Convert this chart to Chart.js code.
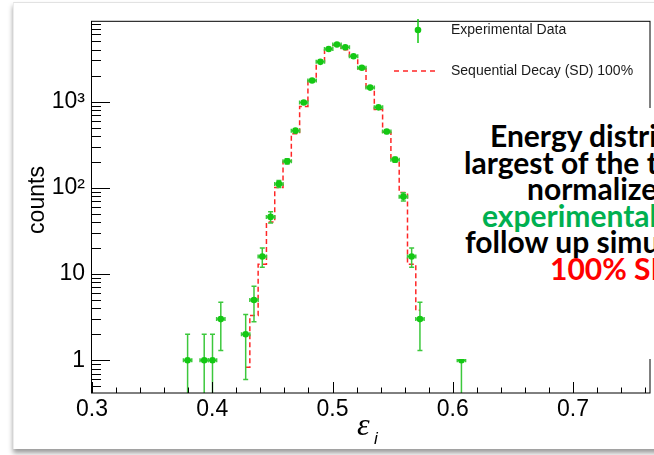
<!DOCTYPE html>
<html>
<head>
<meta charset="utf-8">
<script src="https://cdn.jsdelivr.net/npm/chart.js@4.4.0/dist/chart.umd.min.js"></script>
<style>
  html, body { margin: 0; padding: 0; width: 654px; height: 455px; overflow: hidden; background: #fff; }
  #frame { position: absolute; left: 13px; top: 2px; width: 660px; height: 446px; background: #fff;
           border-top: 1px solid #e2e2e2; border-left: 1px solid #ececec; box-shadow: 0 4px 5px rgba(0,0,0,0.4); }
  #chart { position: absolute; left: 0; top: 0; }
  #note { position: absolute; left: 454px; top: 108px; width: 230px; height: 251px; background: #fff;
          font: bold 30px Lato, sans-serif; line-height: 27px; white-space: nowrap; overflow: hidden; }
  #note div { position: absolute; }
</style>
</head>
<body>
<div id="frame"></div>
<canvas id="chart" width="654" height="455"></canvas>
<div id="note">
  <div style="left:36px; top:14px; color:#000;">Energy distribution</div>
  <div style="left:10px; top:41px; color:#000;">largest of the three</div>
  <div style="left:73px; top:67px; color:#000;">normalized to</div>
  <div style="left:28px; top:94px; color:#00b050;">experimental data</div>
  <div style="left:11px; top:120px; color:#000;">follow up simulation</div>
  <div style="left:96px; top:147px; color:#ff0000;">100% SD</div>
</div>
<script>
// bin centres of the histogram (epsilon_i)
const binCenters = [0.3795, 0.3864, 0.3933, 0.4002, 0.4071, 0.4140, 0.4209, 0.4278, 0.4347, 0.4416,
                    0.4485, 0.4554, 0.4623, 0.4692, 0.4761, 0.4830, 0.4899, 0.4968, 0.5037, 0.5106,
                    0.5175, 0.5244, 0.5313, 0.5382, 0.5451, 0.5520, 0.5589, 0.5658, 0.5727, 0.5796,
                    0.5865, 0.5934, 0.6003, 0.6072];
const binWidth = 0.0069;

// experimental counts per bin and their error bars
const dataCounts = [1, 0, 1, 1, 3, 0, 0, 2, 5, 16, 46, 111, 203, 460, 975, 1755, 2890, 4080, 4600, 4260,
                    3350, 2470, 1452, 857, 449, 212, 79, 16, 3, 0, 0, 0, 0, 1];
const dataErr = [1, 0, 1, 1, 1.7, 0, 0, 1.4, 2.2, 4, 6.8, 10.5, 14.2, 21.4, 31.2, 41.9, 53.8, 63.9, 67.8, 65.3,
                 57.9, 49.7, 38.1, 29.3, 21.2, 14.6, 8.9, 4, 1.7, 0, 0, 0, 0, 1];

// sequential decay simulation (bins 6..29)
const sdCenters = binCenters.slice(6, 30);
const sdCounts = [0, 0.83, 3.3, 13, 40, 101, 203, 423, 880, 1755, 2890, 4080, 4500, 4000, 3350, 2400,
                  1450, 807, 442, 212, 88, 13, 3.8, 0];

const xTickValues = [0.3, 0.4, 0.5, 0.6, 0.7];
const yTickValues = [1, 10, 100, 1000];
const yTickLabels = ['1', '10', '10\u00b2', '10\u00b3'];

const green = '#14c814';
const greenBar = '#3cc83c';
const red = '#ff2626';

// error bars drawn right before the experimental markers
const errorBars = {
  id: 'errorBars',
  beforeDatasetDraw(chart, args) {
    if (args.index !== 1) return;
    const { ctx, chartArea: a, scales: { x, y } } = chart;
    ctx.save();
    ctx.beginPath();
    ctx.rect(a.left, a.top, a.right - a.left, a.bottom - a.top);
    ctx.clip();
    ctx.strokeStyle = greenBar;
    ctx.lineWidth = 1.5;
    binCenters.forEach((c, i) => {
      const n = dataCounts[i];
      if (!n) return;
      const e = dataErr[i];
      const px = x.getPixelForValue(c);
      const py = y.getPixelForValue(n);
      const hiY = y.getPixelForValue(n + e);
      const lo = n - e;
      const loY = lo > 0 ? y.getPixelForValue(lo) : a.bottom + 2;
      const l = x.getPixelForValue(c - binWidth / 2);
      const r = x.getPixelForValue(c + binWidth / 2);
      ctx.beginPath();
      ctx.moveTo(px, hiY); ctx.lineTo(px, loY);
      ctx.moveTo(px - 2.5, hiY); ctx.lineTo(px + 2.5, hiY);
      if (lo > 0) { ctx.moveTo(px - 2.5, loY); ctx.lineTo(px + 2.5, loY); }
      ctx.moveTo(l, py); ctx.lineTo(r, py);
      ctx.moveTo(l, py - 2); ctx.lineTo(l, py + 2);
      ctx.moveTo(r, py - 2); ctx.lineTo(r, py + 2);
      ctx.stroke();
    });
    ctx.restore();
  }
};

// ROOT-like frame, inward ticks, titles and legend
const decorations = {
  id: 'decorations',
  afterDraw(chart) {
    const { ctx, chartArea: a, scales: { x, y } } = chart;
    ctx.save();
    ctx.strokeStyle = '#000';
    ctx.lineWidth = 1;
    ctx.strokeRect(a.left - 0.5, a.top + 0.5, a.right - a.left + 0.5, a.bottom - a.top - 0.5);

    ctx.beginPath();
    for (let v = 0.3; v <= 0.7601; v += 0.02) {
      const px = Math.round(x.getPixelForValue(v)) + 0.5;
      const major = Math.abs(v * 10 - Math.round(v * 10)) < 1e-6;
      ctx.moveTo(px, a.bottom);
      ctx.lineTo(px, a.bottom - (major ? 11 : 5.5));
    }
    for (let d = -1; d <= 3; d++) {
      for (let m = 1; m <= 9; m++) {
        const v = m * Math.pow(10, d);
        if (v < y.min || v > y.max) continue;
        const py = Math.round(y.getPixelForValue(v)) + 0.5;
        ctx.moveTo(a.left, py);
        ctx.lineTo(a.left + (m === 1 ? 18 : 9), py);
      }
    }
    ctx.stroke();

    // axis titles
    ctx.fillStyle = '#000';
    ctx.save();
    ctx.translate(38, 200);
    ctx.rotate(-Math.PI / 2);
    ctx.font = '23px "Liberation Sans"';
    ctx.textAlign = 'center';
    ctx.textBaseline = 'middle';
    ctx.fillText('counts', 0, 0);
    ctx.restore();
    ctx.font = 'italic 32px "Liberation Serif"';
    ctx.textAlign = 'left';
    ctx.textBaseline = 'alphabetic';
    ctx.fillText('\u03b5', 357, 435);
    ctx.font = 'italic 17px "Liberation Sans"';
    ctx.fillText('i', 374, 444);

    // legend
    ctx.strokeStyle = green;
    ctx.lineWidth = 1.5;
    ctx.beginPath();
    ctx.moveTo(418, 19); ctx.lineTo(418, 43);
    ctx.stroke();
    ctx.fillStyle = green;
    ctx.beginPath();
    ctx.arc(418, 30, 3.3, 0, Math.PI * 2);
    ctx.fill();
    ctx.strokeStyle = red;
    ctx.setLineDash([5, 4]);
    ctx.beginPath();
    ctx.moveTo(394, 71); ctx.lineTo(438, 71);
    ctx.stroke();
    ctx.setLineDash([]);
    ctx.fillStyle = '#1a1a1a';
    ctx.font = '14px "Liberation Sans"';
    ctx.textBaseline = 'middle';
    ctx.fillText('Experimental Data', 451, 30);
    ctx.fillText('Sequential Decay (SD) 100%', 451, 71);
    ctx.restore();
  }
};

new Chart(document.getElementById('chart'), {
  type: 'scatter',
  data: {
    datasets: [
      {
        label: 'Sequential Decay (SD) 100%',
        data: sdCenters.map((c, i) => ({ x: c, y: sdCounts[i] })),
        showLine: true,
        stepped: 'middle',
        borderColor: red,
        borderWidth: 1.5,
        borderDash: [5, 3],
        pointRadius: 0,
        order: 2
      },
      {
        label: 'Experimental Data',
        data: binCenters.map((c, i) => ({ x: c, y: dataCounts[i] > 0 ? dataCounts[i] : null })),
        pointRadius: 3.3,
        pointBackgroundColor: green,
        pointBorderWidth: 0,
        order: 1
      }
    ]
  },
  options: {
    responsive: false,
    animation: false,
    devicePixelRatio: 1,
    layout: { padding: { top: 8, right: 4, left: 0, bottom: 0 } },
    plugins: { legend: { display: false }, tooltip: { enabled: false } },
    scales: {
      x: {
        type: 'linear',
        min: 0.3,
        max: 0.764,
        grid: { display: false, drawTicks: false },
        border: { display: false },
        afterBuildTicks: s => { s.ticks = xTickValues.map(v => ({ value: v })); },
        afterFit: s => { s.height = 62; },
        ticks: {
          font: { family: 'Liberation Sans', size: 23 },
          color: '#000',
          padding: 3,
          maxRotation: 0,
          autoSkip: false,
          callback: v => v.toFixed(1)
        }
      },
      y: {
        type: 'logarithmic',
        min: 0.417,
        max: 8650,
        grid: { display: false, drawTicks: false },
        border: { display: false },
        afterBuildTicks: s => { s.ticks = yTickValues.map(v => ({ value: v })); },
        afterFit: s => { s.width = 92; },
        ticks: {
          font: { family: 'Liberation Sans', size: 23 },
          color: '#000',
          padding: 7,
          autoSkip: false,
          callback: v => yTickLabels[yTickValues.indexOf(v)]
        }
      }
    }
  },
  plugins: [errorBars, decorations]
});
</script>
</body>
</html>
